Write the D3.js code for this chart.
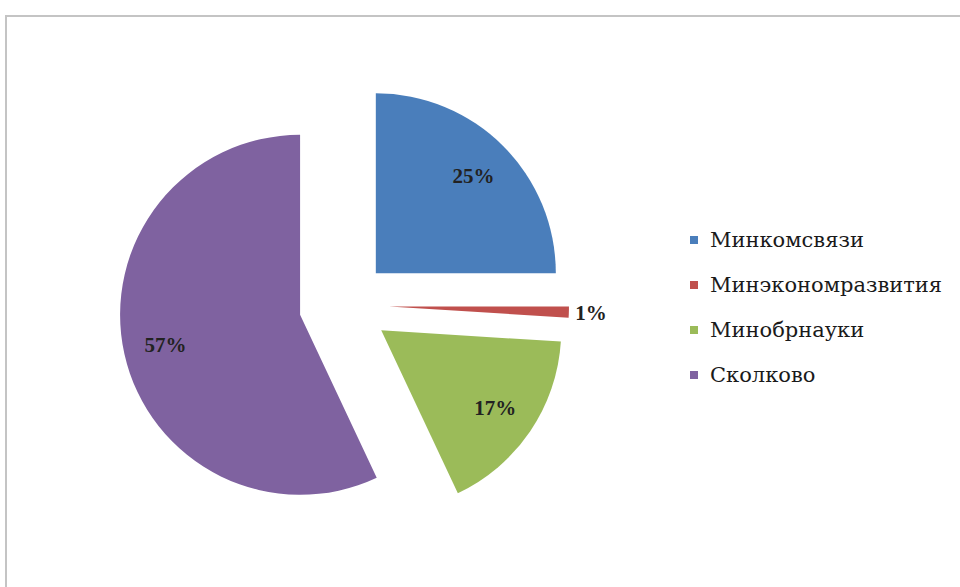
<!DOCTYPE html>
<html>
<head>
<meta charset="utf-8">
<script src="https://cdn.jsdelivr.net/npm/d3@7"></script>
<style>
  body { margin: 0; background: #fff; }
  svg { display: block; }
  text { font-family: 'Liberation Serif', 'Times New Roman', serif; }
  .legend text { font-family: 'DejaVu Serif', serif; }
</style>
</head>
<body>
<div id="chart"></div>
<script>
// data
var names = ['Минкомсвязи', 'Минэкономразвития', 'Минобрнауки', 'Сколково']
var shares = [25, 1, 17, 57]
var colors = ['#4a7ebb', '#c0504d', '#9bbb59', '#7f62a0']

var width = 960
var height = 587

// pie geometry
var cx = 344, cy = 305
var radius = 180
var explode = 45

var svg = d3.select('#chart').append('svg')
    .attr('width', width)
    .attr('height', height)

// chart frame
svg.append('rect')
    .attr('x', 6)
    .attr('y', 16)
    .attr('width', 970)
    .attr('height', 600)
    .attr('fill', 'none')
    .attr('stroke', '#c4c4c4')
    .attr('stroke-width', 2)

var slices = shares.map(function (v, i) { return { name: names[i], value: v, color: colors[i] } })

var pie = d3.pie()
    .sort(null)
    .value(function (d) { return d.value })

var arc = d3.arc()
    .innerRadius(0)
    .outerRadius(radius)

var arcs = pie(slices)

// offset of a slice along its bisector
function offset(d, r) {
    var a = (d.startAngle + d.endAngle) / 2
    return [Math.sin(a) * r, -Math.cos(a) * r]
}

var g = svg.append('g')
    .attr('transform', 'translate(' + cx + ',' + cy + ')')

var slice = g.selectAll('g.slice')
    .data(arcs)
    .enter()
    .append('g')
    .attr('class', 'slice')
    .attr('transform', function (d) {
        var o = offset(d, explode)
        return 'translate(' + o[0] + ',' + o[1] + ')'
    })

slice.append('path')
    .attr('d', arc)
    .attr('fill', function (d) { return d.data.color })

// percentage labels, small slice gets its label outside
slice.append('text')
    .attr('transform', function (d) {
        var r = d.data.value < 3 ? radius + 22 : 138
        var o = offset(d, r)
        return 'translate(' + o[0] + ',' + o[1] + ')'
    })
    .attr('text-anchor', 'middle')
    .attr('dy', '0.35em')
    .style('font-size', '21px')
    .style('font-weight', 'bold')
    .style('fill', '#222')
    .text(function (d) { return d.data.value + '%' })

// legend
var legend = svg.append('g')
    .attr('class', 'legend')
    .attr('transform', 'translate(690,240)')

var item = legend.selectAll('g')
    .data(slices)
    .enter()
    .append('g')
    .attr('transform', function (d, i) { return 'translate(0,' + i * 45 + ')' })

item.append('rect')
    .attr('x', 0)
    .attr('y', -4)
    .attr('width', 8)
    .attr('height', 8)
    .attr('fill', function (d) { return d.color })

item.append('text')
    .attr('x', 20)
    .attr('dy', '0.35em')
    .style('font-size', '21px')
    .style('fill', '#1a1a1a')
    .text(function (d) { return d.name })
</script>
</body>
</html>
